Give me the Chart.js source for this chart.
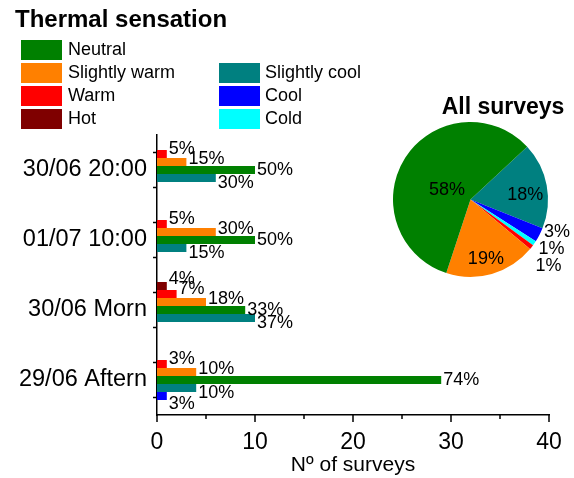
<!DOCTYPE html>
<html>
<head>
<meta charset="utf-8">
<script src="https://cdn.jsdelivr.net/npm/chart.js@4"></script>
<style>
body { margin: 0; background: #fff; }
#wrap { position: relative; width: 574px; height: 478px; }
#barChart { position: absolute; left: 0; top: 0; }
#pieChart { position: absolute; left: 380px; top: 88px; }
</style>
</head>
<body>
<div id="wrap">
  <canvas id="barChart" width="574" height="478"></canvas>
  <canvas id="pieChart" width="194" height="200"></canvas>
</div>
<script>
// categories (top to bottom)
var categories = ['30/06 20:00', '01/07 10:00', '30/06 Morn', '29/06 Aftern'];

// number of surveys per category
var hot          = [0, 0, 1, 0];
var warm         = [1, 1, 2, 1];
var slightlyWarm = [3, 6, 5, 4];
var neutral      = [10, 10, 9, 29];
var slightlyCool = [6, 3, 10, 4];
var cool         = [0, 0, 0, 1];
var cold         = [0, 0, 0, 0];

// percentage labels shown next to the bars
var hotPct          = [null, null, 4, null];
var warmPct         = [5, 5, 7, 3];
var slightlyWarmPct = [15, 30, 18, 10];
var neutralPct      = [50, 50, 33, 74];
var slightlyCoolPct = [30, 15, 37, 10];
var coolPct         = [null, null, null, 3];
var coldPct         = [null, null, null, null];

// all surveys pie (%), clockwise from the neutral/slightly cool border
var pieLabels = ['Slightly cool', 'Cool', 'Cold', 'Warm', 'Hot', 'Slightly warm', 'Neutral'];
var pieValues = [18, 3, 1, 1, 0, 19, 58];

var xTicks = [0, 10, 20, 30, 40];

var colors = {
    'Hot': '#7f0000',
    'Warm': '#ff0000',
    'Slightly warm': '#ff8000',
    'Neutral': '#008000',
    'Slightly cool': '#008080',
    'Cool': '#0000ff',
    'Cold': '#00ffff'
};
var FONT = '"Liberation Sans", Arial, sans-serif';

function ds(label, data, pct, shift) {
    return {
        label: label,
        data: data,
        pct: pct,
        shift: shift, //desplazamiento vertical de la etiqueta
        backgroundColor: colors[label],
        barPercentage: 1,
        categoryPercentage: 0.8
    };
}

var decorPlugin = {
    id: 'decor',
    afterDraw: function (chart) {
        var ctx = chart.ctx;
        var xs = chart.scales.x, ys = chart.scales.y;
        var area = chart.chartArea;
        ctx.save();
        ctx.strokeStyle = '#000';
        ctx.lineWidth = 1.5;
        // x ticks, major and minor
        for (var v = 0; v <= 40; v += 5) {
            var px = xs.getPixelForValue(v);
            var len = (v % 10 === 0) ? 7 : 4;
            ctx.beginPath();
            ctx.moveTo(px, area.bottom);
            ctx.lineTo(px, area.bottom + len);
            ctx.stroke();
        }
        // y ticks
        var step = (ys.getPixelForValue(1) - ys.getPixelForValue(0)) / 4;
        categories.forEach(function (c, i) {
            var cy = ys.getPixelForValue(i);
            [-step, step].forEach(function (d) {
                ctx.beginPath();
                ctx.moveTo(area.left, cy + d);
                ctx.lineTo(area.left - 4, cy + d);
                ctx.stroke();
            });
        });

        // bar percentage labels
        ctx.fillStyle = '#000';
        ctx.font = '18px ' + FONT;
        ctx.textAlign = 'left';
        ctx.textBaseline = 'middle';
        chart.data.datasets.forEach(function (d, di) {
            var meta = chart.getDatasetMeta(di);
            meta.data.forEach(function (bar, i) {
                if (d.pct[i] == null) return;
                ctx.fillText(d.pct[i] + '%', bar.x + 2, bar.y + d.shift);
            });
        });

        // title + legend
        ctx.font = 'bold 24px ' + FONT;
        ctx.fillText('Thermal sensation', 15, 20);
        var rowsLeft = ['Neutral', 'Slightly warm', 'Warm', 'Hot'];
        var rowsRight = [null, 'Slightly cool', 'Cool', 'Cold'];
        ctx.font = '18px ' + FONT;
        for (var r = 0; r < 4; r++) {
            var top = 40 + r * 23;
            [[rowsLeft[r], 21, 68], [rowsRight[r], 219, 265]].forEach(function (it) {
                if (!it[0]) return;
                ctx.fillStyle = colors[it[0]];
                ctx.fillRect(it[1], top, 41, 20);
                ctx.fillStyle = '#000';
                ctx.fillText(it[0], it[2], top + 10);
            });
        }
        ctx.restore();
    }
};

var barChart = new Chart(document.getElementById('barChart'), {
    type: 'bar',
    data: {
        labels: categories,
        datasets: [
            ds('Hot', hot, hotPct, -7),
            ds('Warm', warm, warmPct, -5),
            ds('Slightly warm', slightlyWarm, slightlyWarmPct, -3),
            ds('Neutral', neutral, neutralPct, 0),
            ds('Slightly cool', slightlyCool, slightlyCoolPct, 5),
            ds('Cool', cool, coolPct, 8),
            ds('Cold', cold, coldPct, 8)
        ]
    },
    options: {
        indexAxis: 'y',
        responsive: false,
        animation: false,
        layout: { padding: { top: 135, right: 25, left: 0, bottom: 0 } },
        plugins: { legend: { display: false }, tooltip: { enabled: false } },
        scales: {
            x: {
                min: 0,
                max: 40,
                afterBuildTicks: function (s) {
                    s.ticks = xTicks.map(function (v) { return { value: v }; });
                },
                grid: { display: false },
                border: { display: true, color: '#000', width: 1.5 },
                ticks: { color: '#000', font: { family: FONT, size: 23 }, padding: 6, maxRotation: 0 },
                title: { display: true, text: 'Nº of surveys', color: '#000', font: { family: FONT, size: 21 }, padding: 0 },
                afterFit: function (s) { s.height = 63; }
            },
            y: {
                grid: { display: false },
                border: { display: true, color: '#000', width: 1.5 },
                ticks: { color: '#000', font: { family: FONT, size: 23.5 }, padding: 2 },
                afterFit: function (s) { s.width = 157; }
            }
        }
    },
    plugins: [decorPlugin]
});

var pieDecor = {
    id: 'pieDecor',
    afterDraw: function (chart) {
        var ctx = chart.ctx;
        var meta = chart.getDatasetMeta(0);
        ctx.save();
        ctx.fillStyle = '#000';
        ctx.font = 'bold 23px ' + FONT;
        ctx.textAlign = 'center';
        ctx.textBaseline = 'middle';
        ctx.fillText('All surveys', 123, 20);
        ctx.font = '18px ' + FONT;
        var lastY = -1000;
        meta.data.forEach(function (arc, i) {
            var v = pieValues[i];
            if (!v) return;
            var mid = (arc.startAngle + arc.endAngle) / 2;
            var r = arc.outerRadius;
            if (v >= 10) {
                var f = v > 50 ? 0.36 : 0.72;
                ctx.textAlign = 'center';
                ctx.textBaseline = 'middle';
                ctx.fillText(v + '%', arc.x + Math.cos(mid) * r * f, arc.y + Math.sin(mid) * r * f + 6);
            } else {
                var lx = arc.x + Math.cos(mid) * (r + 5);
                var ly = arc.y + Math.sin(mid) * (r + 5);
                if (ly < lastY + 17) ly = lastY + 17;
                lastY = ly;
                ctx.textAlign = 'left';
                ctx.textBaseline = 'alphabetic';
                ctx.fillText(v + '%', lx, ly);
            }
        });
        ctx.restore();
    }
};

var pieChart = new Chart(document.getElementById('pieChart'), {
    type: 'pie',
    data: {
        labels: pieLabels,
        datasets: [{
            data: pieValues,
            backgroundColor: pieLabels.map(function (l) { return colors[l]; }),
            borderWidth: 0
        }]
    },
    options: {
        responsive: false,
        animation: false,
        rotation: 47,
        layout: { padding: { left: 13, right: 26, top: 34, bottom: 11 } },
        plugins: { legend: { display: false }, tooltip: { enabled: false } }
    },
    plugins: [pieDecor]
});
</script>
</body>
</html>
